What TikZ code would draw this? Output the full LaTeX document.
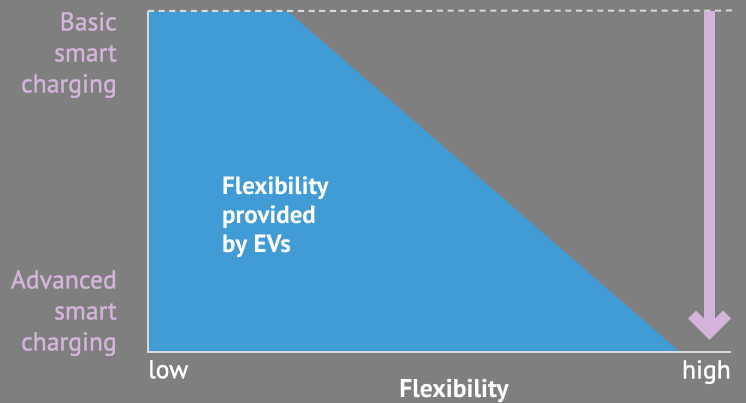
\documentclass[tikz,border=0pt]{standalone}
\usepackage{fontspec}
\setmainfont{PT Sans}
\newfontfamily\medfont{PT Sans}[FakeBold=1.2]
\definecolor{bggray}{HTML}{7F7F7F}
\definecolor{evblue}{HTML}{419CD6}
\definecolor{lilac}{HTML}{D4B4DA}
\definecolor{dashgray}{HTML}{D9D9D9}
\begin{document}
\begin{tikzpicture}[x=1pt,y=-1pt,
  lab/.style={inner sep=0pt, text=lilac, align=right, anchor=north east,
    font=\medfont\fontsize{25.7}{31}\selectfont},
  axlab/.style={inner sep=0pt, text=white, font=\medfont\fontsize{25.7}{31}\selectfont},
  axis/.style={draw=dashgray, line width=1.2pt},
  arrowshaft/.style={draw=lilac, line width=11pt, line cap=butt, line join=miter}]
\fill[bggray] (0,0) rectangle (746,403);
\useasboundingbox (0,0) rectangle (746,403);
% flexibility area
\fill[evblue] (148,11.5) -- (288,11.5) -- (680,352) -- (148,352) -- cycle;
% axes
\coordinate (origin) at (148,352);
\coordinate (ytop) at (148,11);
\coordinate (xend) at (731,352);
\coordinate (dashend) at (732,10.5);
\draw[axis] (ytop) -- (origin) -- (xend);
\draw[dashgray, line width=2pt, dash pattern=on 6pt off 4.7pt] (ytop) -- (dashend);
% arrow
\coordinate (arrtop) at (709.5,11);
\coordinate (arrtip) at (709.5,332);
\coordinate (barbL) at (692,314.5);
\coordinate (barbR) at (727,314.5);
\draw[arrowshaft] (arrtop) -- (arrtip);
\draw[arrowshaft] (barbL) -- (arrtip) -- (barbR);
% labels
\node[lab] (basic) at (117,12) {Basic\\smart\\charging};
\node[lab] (adv) at (117,270) {Advanced\\smart\\charging};
\node[inner sep=0pt, text=white, align=left, anchor=north west,
  font=\fontsize{25}{29}\selectfont\bfseries] (flexev) at (222,177) {Flexibility\\provided\\by EVs};
\node[axlab, anchor=north west] (low) at (148,360) {low};
\node[axlab, anchor=north east] (high) at (731,360) {high};
\node[axlab, anchor=north, font=\fontsize{25.7}{31}\selectfont\bfseries] (flex) at (454,379) {Flexibility};
\end{tikzpicture}
\end{document}
